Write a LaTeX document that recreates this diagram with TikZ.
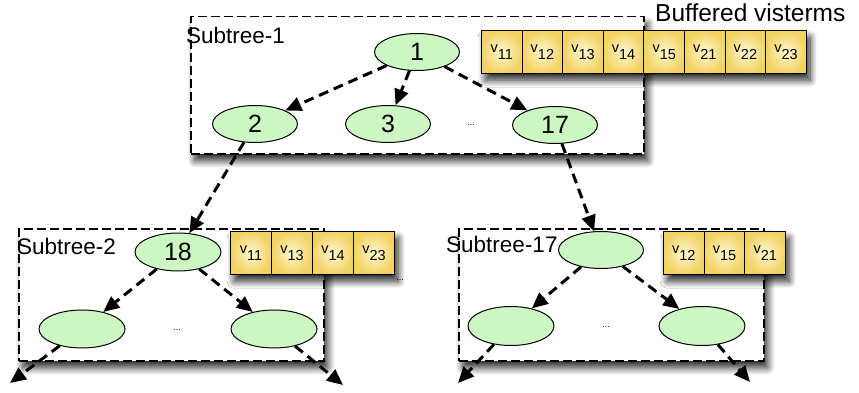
\documentclass[tikz,border=0pt]{standalone}
\usepackage{fontspec}
\setmainfont{Liberation Sans}
\usetikzlibrary{arrows.meta,shadows.blur,shapes.geometric}
\definecolor{nodegreen}{RGB}{204,247,194}
\definecolor{celltop}{RGB}{255,248,206}
\definecolor{cellbot}{RGB}{243,210,100}

\tikzset{
  dropshadow/.style={blur shadow={shadow xshift=4pt, shadow yshift=-7pt,
    shadow blur radius=7pt, shadow blur steps=12, shadow opacity=85}},
  treenode/.style={ellipse, draw=black, line width=1pt, fill=nodegreen,
    minimum width=85pt, minimum height=37pt, inner sep=0pt,
    font=\fontsize{25}{25}\selectfont},
  subtree/.style={rectangle, draw=black, line width=1.5pt, dash pattern=on 9pt off 4pt,
    fill=white, anchor=north west, inner sep=0pt, dropshadow},
  rowshadow/.style={rectangle, fill=cellbot, anchor=north west, inner sep=0pt,
    minimum height=43pt, dropshadow},
  cell/.style={rectangle, draw=black, line width=1pt, inner color=celltop, outer color=cellbot,
    minimum width=40.6pt, minimum height=43pt, inner sep=0pt, anchor=north west,
    font=\fontsize{14.5}{14.5}\selectfont},
  link/.style={line width=3pt, dash pattern=on 10pt off 6pt,
    -{Triangle[length=16pt,width=14pt]}},
  lbl/.style={anchor=base west, inner sep=0pt, font=\fontsize{22.5}{22.5}\selectfont},
  dots/.style={inner sep=0pt, font=\fontsize{9}{9}\selectfont},
}
\newcommand{\vterm}[1]{v\raisebox{-7.5pt}{#1}}

\begin{document}
\begin{tikzpicture}[x=1pt,y=-1pt]
\useasboundingbox (0,0) rectangle (859,393);

% ---- subtree frames ----
\node[subtree, minimum width=453pt, minimum height=137pt] (st1) at (190,16) {};
\node[subtree, minimum width=305pt, minimum height=132pt] (st2) at (18,228) {};
\node[subtree, minimum width=305pt, minimum height=132pt] (st17) at (458,228) {};

% ---- buffers of visterms ----
\node[rowshadow, minimum width=324.8pt] (buf1) at (481,30) {};
\foreach \s [count=\i from 0] in {11,12,13,14,15,21,22,23}
  \node[cell] (bufA\s) at ({481+40.6*\i},30) {\vterm{\s}};

\node[rowshadow, minimum width=164pt] (buf2) at (230,231) {};
\foreach \s [count=\i from 0] in {11,13,14,23}
  \node[cell, minimum width=41pt] (bufB\s) at ({230+41*\i},231) {\vterm{\s}};

\node[rowshadow, minimum width=122pt] (buf17) at (663,231) {};
\foreach \s [count=\i from 0] in {12,15,21}
  \node[cell, minimum width=40.7pt] (bufC\s) at ({663+40.7*\i},231) {\vterm{\s}};

% ---- labels ----
\node[lbl] (lab1) at (186,43.5) {Subtree-1};
\node[lbl] (lab2) at (17,254) {Subtree-2};
\node[lbl] (lab17) at (446,252) {Subtree-17};
\node[anchor=base west, inner sep=0pt, font=\fontsize{24.5}{24.5}\selectfont] (bufcap) at (655,22) {Buffered visterms};

% ---- tree nodes ----
\node[treenode] (n1) at (417,52) {1};
\node[treenode] (n2) at (255,124) {2};
\node[treenode] (n3) at (388,124) {3};
\node[treenode] (n17) at (555,125) {17};
\node[treenode, minimum width=86pt, minimum height=38pt] (n18) at (178,252) {18};
\node[treenode, minimum width=86pt, minimum height=38pt] (a1) at (82,329) {};
\node[treenode, minimum width=86pt, minimum height=38pt] (a2) at (274,329) {};
\node[treenode] (t17) at (601,250) {};
\node[treenode, minimum width=86pt, minimum height=39pt] (c1) at (511,326) {};
\node[treenode, minimum width=86pt, minimum height=39pt] (c2) at (702,326) {};

% ---- elided siblings ----
\node[dots] (dd1) at (471,125) {...};
\node[dots] (dd2) at (177,330) {...};
\node[dots] (dd3) at (606,327) {...};
\node[dots] (dd4) at (400,280) {...};

% ---- loose ends ----
\coordinate (e1) at (10,383);
\coordinate (e2) at (343,385);
\coordinate (e3) at (458,383);
\coordinate (e4) at (750,382);

% ---- links ----
\draw[link] (n1) -- (n2);
\draw[link] (n1) -- (n3);
\draw[link] (n1) -- (n17);
\draw[link] (n2) -- (n18);
\draw[link] (n17) -- (t17);
\draw[link] (n18) -- (a1);
\draw[link] (n18) -- (a2);
\draw[link] (t17) -- (c1);
\draw[link] (t17) -- (c2);
\draw[link] (a1) -- (e1);
\draw[link] (a2) -- (e2);
\draw[link] (c1) -- (e3);
\draw[link] (c2) -- (e4);
\end{tikzpicture}
\end{document}
